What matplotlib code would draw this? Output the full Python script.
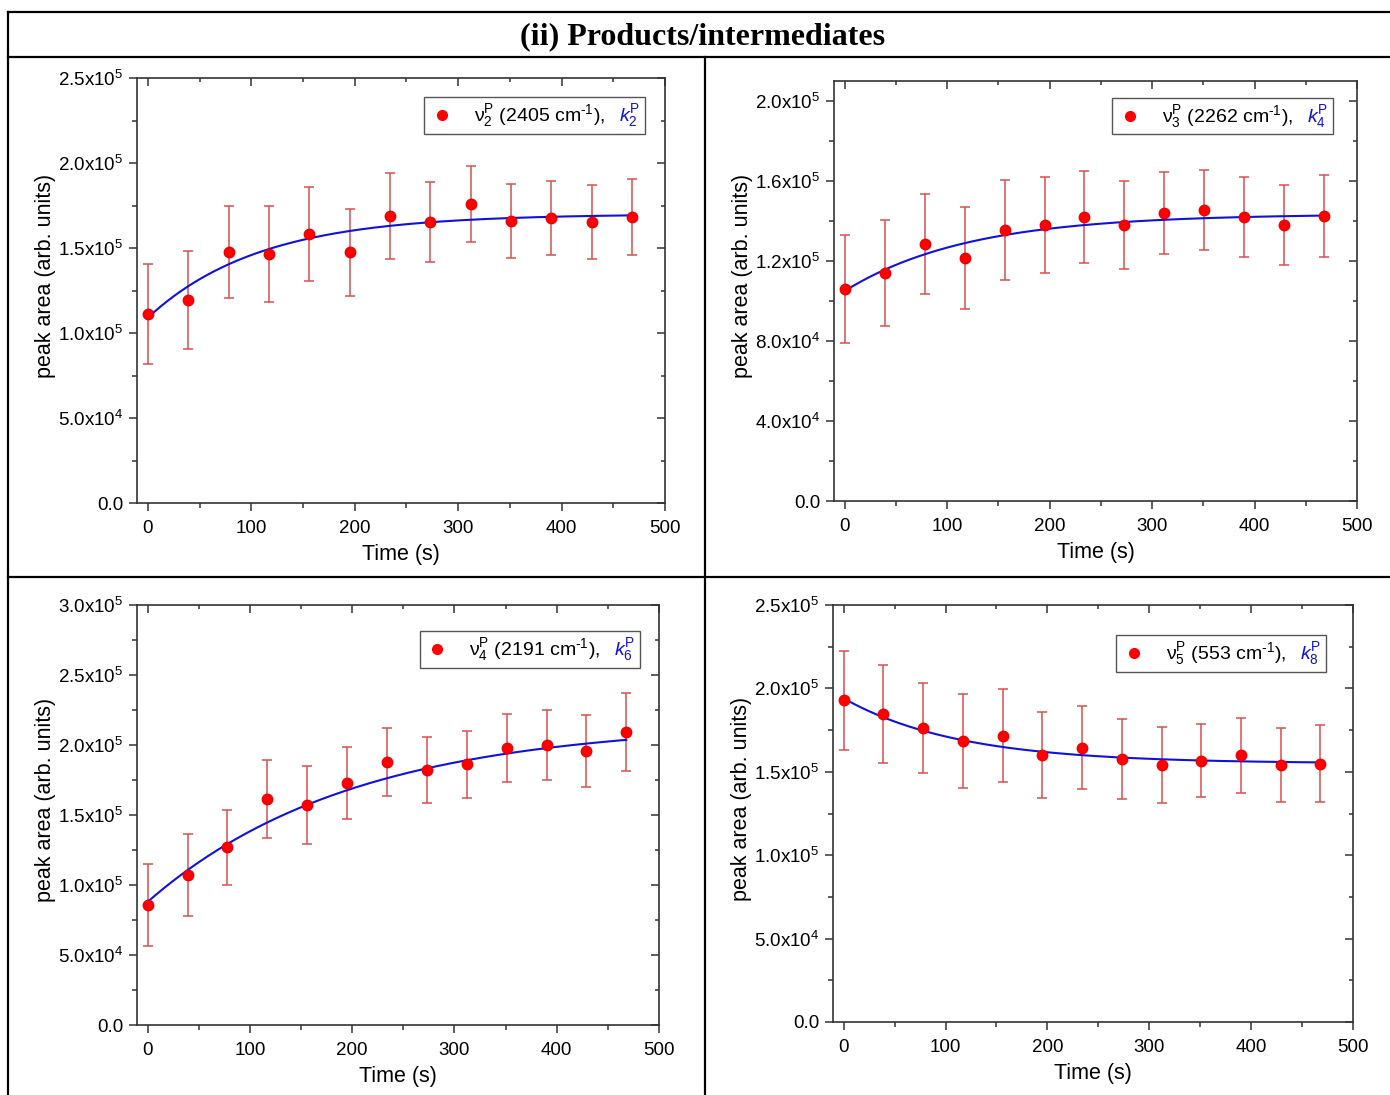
import numpy as np
import matplotlib
matplotlib.use("Agg")
import matplotlib.pyplot as plt
from matplotlib.ticker import MultipleLocator, FuncFormatter
from matplotlib.offsetbox import AnchoredOffsetbox, HPacker, TextArea, DrawingArea
from matplotlib.lines import Line2D

plt.rcParams.update({
    "font.family": ["Liberation Sans", "DejaVu Sans"],
    "mathtext.fontset": "custom",
    "mathtext.rm": "Liberation Sans",
    "mathtext.it": "Liberation Sans:italic",
    "mathtext.bf": "Liberation Sans:bold",
    "mathtext.default": "regular",
})

# ---------------- data ----------------
time_s = [0, 39, 78, 117, 156, 195, 234, 273, 312, 351, 390, 429, 468]

v2_area = [1.112e5, 1.194e5, 1.476e5, 1.465e5, 1.582e5, 1.476e5, 1.688e5,
           1.653e5, 1.759e5, 1.659e5, 1.676e5, 1.653e5, 1.682e5]
v2_err = [2.94e4, 2.90e4, 2.73e4, 2.80e4, 2.76e4, 2.56e4, 2.53e4,
          2.35e4, 2.26e4, 2.15e4, 2.20e4, 2.18e4, 2.26e4]

v3_area = [1.060e5, 1.140e5, 1.285e5, 1.215e5, 1.355e5, 1.380e5, 1.420e5,
           1.380e5, 1.440e5, 1.455e5, 1.420e5, 1.380e5, 1.425e5]
v3_err = [2.70e4, 2.65e4, 2.50e4, 2.55e4, 2.50e4, 2.40e4, 2.30e4,
          2.20e4, 2.05e4, 2.00e4, 2.00e4, 2.00e4, 2.05e4]

v4_area = [0.857e5, 1.071e5, 1.271e5, 1.614e5, 1.571e5, 1.729e5, 1.879e5,
           1.821e5, 1.864e5, 1.979e5, 2.000e5, 1.957e5, 2.093e5]
v4_err = [2.93e4, 2.90e4, 2.68e4, 2.79e4, 2.79e4, 2.57e4, 2.46e4,
          2.36e4, 2.39e4, 2.46e4, 2.50e4, 2.57e4, 2.82e4]

v5_area = [1.930e5, 1.846e5, 1.763e5, 1.685e5, 1.715e5, 1.600e5, 1.643e5,
           1.577e5, 1.541e5, 1.565e5, 1.600e5, 1.541e5, 1.547e5]
v5_err = [2.97e4, 2.94e4, 2.70e4, 2.82e4, 2.79e4, 2.58e4, 2.49e4,
          2.40e4, 2.28e4, 2.19e4, 2.25e4, 2.22e4, 2.31e4]

# exponential fit parameters: y = A + B * exp(-k t)
fit_v2 = (1.700e5, -0.610e5, 0.00927)
fit_v3 = (1.435e5, -0.385e5, 0.0083)
fit_v4 = (2.160e5, -1.280e5, 0.0050)
fit_v5 = (1.550e5, 0.390e5, 0.0088)

labels_nu = [r"$ν_2^P$ (2405 cm$^{\text{-}1}$),", r"$ν_3^P$ (2262 cm$^{\text{-}1}$),",
             r"$ν_4^P$ (2191 cm$^{\text{-}1}$),", r"$ν_5^P$ (553 cm$^{\text{-}1}$),"]
labels_k = [r"$\mathit{k}_2^P$", r"$\mathit{k}_4^P$",
            r"$\mathit{k}_6^P$", r"$\mathit{k}_8^P$"]

title = "(ii) Products/intermediates"

# ---------------- layout ----------------
W, H = 1390, 1095
fig = plt.figure(figsize=(W / 100, H / 100), dpi=100)

def px_axes(l, t, r, b):
    return fig.add_axes([l / W, 1 - b / H, (r - l) / W, (b - t) / H])

# frame lines
lc = "black"
for (x0, y0, x1, y1) in [(8, 12, W, 12), (8, 57, W, 57), (8, 577, W, 577),
                         (8, 12, 8, H), (705, 57, 705, H)]:
    fig.add_artist(Line2D([x0 / W, x1 / W], [1 - y0 / H, 1 - y1 / H],
                          transform=fig.transFigure, color=lc, lw=1.6))

fig.text(703 / W, 1 - 37 / H, title, family="Liberation Serif",
         fontweight="bold", fontsize=23, ha="center", va="center")

def yfmt(v, pos):
    if abs(v) < 1e-9:
        return "0.0"
    e = int(np.floor(np.log10(abs(v)) + 1e-9))
    m = v / 10 ** e
    return f"{m:.1f}x10$^{{{e}}}$"

panels = [
    dict(box=(137, 78, 665, 503), ylim=(0, 2.5e5), maj=5e4, mino=2.5e4,
         y=v2_area, err=v2_err, fit=fit_v2, leg=(0.962, 0.955)),
    dict(box=(834, 81, 1357, 501), ylim=(0, 2.1e5), maj=4e4, mino=2e4,
         y=v3_area, err=v3_err, fit=fit_v3, leg=(0.954, 0.960)),
    dict(box=(137, 605, 659, 1025), ylim=(0, 3.0e5), maj=5e4, mino=2.5e4,
         y=v4_area, err=v4_err, fit=fit_v4, leg=(0.964, 0.938)),
    dict(box=(833, 605, 1353, 1022), ylim=(0, 2.5e5), maj=5e4, mino=2.5e4,
         y=v5_area, err=v5_err, fit=fit_v5, leg=(0.948, 0.928)),
]

spc = "#333333"
tfine = np.linspace(time_s[0], time_s[-1], 300)

for i, p in enumerate(panels):
    ax = px_axes(*p["box"])
    ax.errorbar(time_s, p["y"], yerr=p["err"], fmt="none", ecolor="#d85050",
                elinewidth=1.1, capsize=3.5, capthick=1.1, zorder=2)
    A, B, k = p["fit"]
    ax.plot(tfine, A + B * np.exp(-k * tfine), color="#1010e0", lw=1.5, zorder=3)
    ax.plot(time_s, p["y"], "o", color="#ff0000", ms=7.5, mec="#ee0000", zorder=4)

    ax.set_xlim(-10.5, 500)
    ax.set_ylim(*p["ylim"])
    ax.xaxis.set_major_locator(MultipleLocator(100))
    ax.xaxis.set_minor_locator(MultipleLocator(50))
    ax.yaxis.set_major_locator(MultipleLocator(p["maj"]))
    ax.yaxis.set_minor_locator(MultipleLocator(p["mino"]))
    ax.yaxis.set_major_formatter(FuncFormatter(yfmt))
    ax.tick_params(which="major", direction="out", length=6, width=1.1,
                   color=spc, labelsize=13.5, pad=4)
    ax.tick_params(axis="x", which="major", pad=6)
    ax.tick_params(which="minor", direction="out", length=3.5, width=1.1, color=spc)
    for s in ax.spines.values():
        s.set_color(spc)
        s.set_linewidth(1.2)

    # inward ticks on top and right
    sx = ax.secondary_xaxis("top")
    sx.xaxis.set_major_locator(MultipleLocator(100))
    sx.xaxis.set_minor_locator(MultipleLocator(50))
    sx.tick_params(which="major", direction="in", length=6, width=1.1,
                   color=spc, labeltop=False)
    sx.tick_params(which="minor", direction="in", length=3, width=1.1, color=spc)
    sx.spines["top"].set_visible(False)
    sy = ax.secondary_yaxis("right")
    sy.yaxis.set_major_locator(MultipleLocator(p["maj"]))
    sy.yaxis.set_minor_locator(MultipleLocator(p["mino"]))
    sy.tick_params(which="major", direction="in", length=6, width=1.1,
                   color=spc, labelright=False)
    sy.tick_params(which="minor", direction="in", length=3, width=1.1, color=spc)
    sy.spines["right"].set_visible(False)

    ax.set_xlabel("Time (s)", fontsize=15.5, labelpad=5)
    ax.set_ylabel("peak area (arb. units)", fontsize=15.5, labelpad=1, y=0.535)

    # legend box
    da = DrawingArea(22, 12, 0, 0)
    da.add_artist(Line2D([9], [6], marker="o", color="#ff0000", ms=7, ls="none"))
    t1 = TextArea(labels_nu[i], textprops=dict(fontsize=14, color="black"))
    t2 = TextArea(labels_k[i], textprops=dict(fontsize=14, color="#1010e0"))
    pack = HPacker(children=[da, t1, t2], align="center", pad=0, sep=10)
    ab = AnchoredOffsetbox(loc="upper right", child=pack, pad=0.35, borderpad=0,
                           frameon=True, bbox_to_anchor=p["leg"],
                           bbox_transform=ax.transAxes)
    ab.patch.set_edgecolor("#555555")
    ab.patch.set_linewidth(1.0)
    ab.patch.set_boxstyle("square", pad=0)
    ax.add_artist(ab)

fig.savefig("out.png", dpi=100)
